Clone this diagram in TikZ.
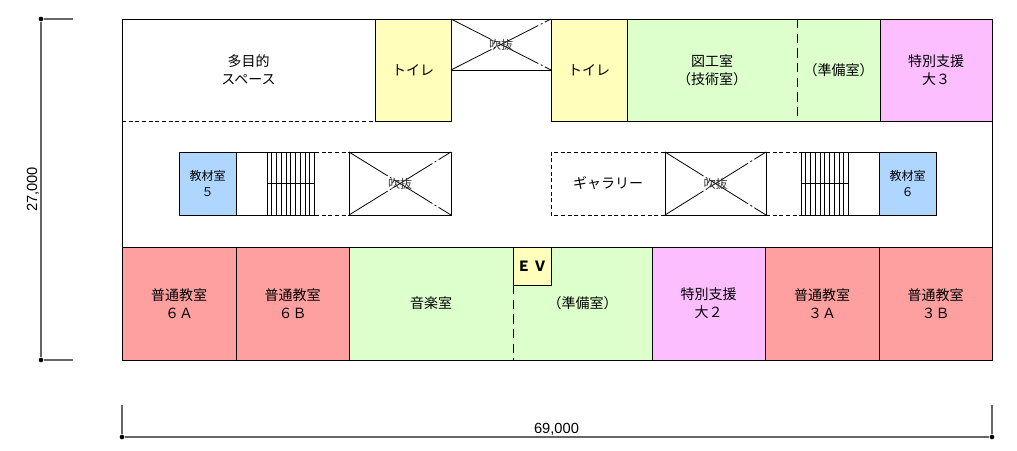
\documentclass[tikz,border=0pt]{standalone}
\usepackage{fontspec}
\setmainfont{Noto Sans CJK JP}
\newfontfamily\dimfont{Liberation Sans}
\usepackage{xcolor}
\usetikzlibrary{positioning}
\definecolor{roomred}{HTML}{FFA0A0}
\definecolor{roomgreen}{HTML}{DCFFCC}
\definecolor{roomyellow}{HTML}{FFFFBB}
\definecolor{roompink}{HTML}{FCBEFF}
\definecolor{roomblue}{HTML}{AFD6FF}
\newlength{\pxunit}
\setlength{\pxunit}{0.75pt}

\begin{document}
\begin{tikzpicture}[x=0.75pt, y=-0.75pt, node distance=0pt, line width=0.75pt,
  room/.style 2 args={rectangle, draw, inner sep=0pt, outer sep=0pt, align=center, font=\fontsize{10.5pt}{13.5pt}\selectfont, minimum width=#1*\pxunit, minimum height=#2*\pxunit},
  smallroom/.style 2 args={room={#1}{#2}, font=\fontsize{9pt}{12pt}\selectfont},
  crossline/.style={line width=0.6pt, dash pattern=on 34pt off 2pt on 1.5pt off 2pt},
  dimline/.style={gray!80!black, line width=0.8pt},
  dimdot/.style={circle, fill=black, inner sep=0pt, minimum size=3.5pt},
  dimtext/.style={inner sep=0pt, font=\fontsize{11pt}{12pt}\dimfont}]
\useasboundingbox (0,0) rectangle (1017,450);

% Top row
\node [room={253}{102}, draw=none, anchor=north west] (hall) at (122,19) {多目的\\スペース};
\node [room={76}{102}, fill=roomyellow, right=of hall] (wc1) {トイレ};
\node [room={100}{51}, anchor=north west] (void1) at (wc1.north east) {};
\node [room={76}{102}, fill=roomyellow, anchor=north west] (wc2) at (void1.north east) {トイレ};
\node [room={170}{102}, draw=none, fill=roomgreen, right=of wc2] (art) {図工室\\（技術室）};
\node [room={83}{102}, draw=none, fill=roomgreen, right=of art] (artprep) {（準備室）};
\node [room={112}{102}, fill=roompink, right=of artprep] (sp3) {特別支援\\大３};

% Middle row, left
\node [smallroom={57}{63}, fill=roomblue, anchor=north west] (mat5) at (179,152) {教材室\\５};
\node [room={79}{63}, draw=none, right=of mat5] (stair1) {};
\node [room={34}{63}, draw=none, right=of stair1] (land1) {};
\node [room={102}{63}, right=of land1] (void2) {};

% Middle row, right
\node [room={114}{63}, draw=none, anchor=north west] (gallery) at (551,152) {ギャラリー};
\node [room={101}{63}, right=of gallery] (void3) {};
\node [room={35}{63}, draw=none, right=of void3] (land2) {};
\node [room={78}{63}, draw=none, right=of land2] (stair2) {};
\node [smallroom={57}{63}, fill=roomblue, right=of stair2] (mat6) {教材室\\６};

% Bottom row
\node [room={114}{113}, fill=roomred, anchor=north west] (r6a) at (122,247) {普通教室\\６Ａ};
\node [room={113}{113}, fill=roomred, right=of r6a] (r6b) {普通教室\\６Ｂ};
\node [room={164}{113}, draw=none, fill=roomgreen, right=of r6b] (music) {音楽室};
\node [room={139}{113}, draw=none, fill=roomgreen, right=of music] (musicprep) {（準備室）};
\node [room={113}{113}, fill=roompink, right=of musicprep] (sp2) {特別支援\\大２};
\node [room={114}{113}, fill=roomred, right=of sp2] (r3a) {普通教室\\３Ａ};
\node [room={113}{113}, fill=roomred, right=of r3a] (r3b) {普通教室\\３Ｂ};
\node [room={38}{38}, fill=roomyellow, anchor=north west] (ev) at (music.north east) {};
\node at (ev.center) [font=\fontsize{10.5pt}{12pt}\selectfont\bfseries] (evtext) {Ｅ\,Ｖ};

% Walls
\draw (art.north west) rectangle (artprep.south east);
\draw (music.north west) rectangle (musicprep.south east);
\draw (hall.north west) -- (hall.north east);
\draw (hall.north west) -- (r6a.north west);
\draw (sp3.south east) -- (r3b.north east);
\draw[dash pattern=on 3pt off 2pt] (hall.south west) -- (hall.south east);
\draw[dash pattern=on 7pt off 4pt] (art.north east) -- (art.south east);
\draw[dash pattern=on 7pt off 4pt] (ev.south west) -- (music.south east);

% Stairs
\draw (mat5.north east) -- (stair1.north east) (mat5.south east) -- (stair1.south east);
\draw (mat6.north west) -- (stair2.north west) (mat6.south west) -- (stair2.south west);
\draw[dash pattern=on 3pt off 2pt] (land1.north west) -- (land1.north east) (land1.south west) -- (land1.south east);
\draw[dash pattern=on 3pt off 2pt] (land2.north west) -- (land2.north east) (land2.south west) -- (land2.south east);
\draw[dash pattern=on 3pt off 2pt] (gallery.south east) -| (gallery.north west) -- (gallery.north east);
\foreach \i in {0,...,10} {
  \draw[line width=0.6pt] ([xshift=(31+\i*4.75)*\pxunit]mat5.north east) -- ([xshift=(31+\i*4.75)*\pxunit]mat5.south east);
  \draw[line width=0.6pt] ([xshift=\i*4.75*\pxunit]land2.north east) -- ([xshift=\i*4.75*\pxunit]land2.south east);
}
\draw[line width=0.6pt] ([xshift=31*\pxunit]mat5.east) -- (stair1.east);
\draw[line width=0.6pt] (land2.east) -- ([xshift=47.5*\pxunit]land2.east);

% Voids
\foreach \v in {void1,void2,void3} {
  \draw[crossline] (\v.north west) -- (\v.south east);
  \draw[crossline] (\v.south west) -- (\v.north east);
  \node [font=\fontsize{9pt}{10pt}\selectfont, text=black!80] (\v text) at (\v.center) {吹抜};
}

% Dimensions
\node [dimdot] (dimtop) at (41,19) {};
\node [dimdot] (dimbottom) at (41,360) {};
\node [dimdot] (dimleft) at (122,437) {};
\node [dimdot] (dimright) at (992,437) {};
\coordinate (ticktop) at (73,19);
\coordinate (tickbottom) at (73,360);
\coordinate (tickleft) at (122,405);
\coordinate (tickright) at (992,405);
\draw[dimline] (dimtop) -- (dimbottom);
\draw[dimline] (dimleft) -- (dimright);
\draw[dimline] (dimtop) -- (ticktop);
\draw[dimline] (dimbottom) -- (tickbottom);
\draw[dimline] (dimleft) -- (tickleft);
\draw[dimline] (dimright) -- (tickright);
\node [dimtext, rotate=90] (width27) at (33,189.5) {27,000};
\node [dimtext] (width69) at (556.5,429) {69,000};
\end{tikzpicture}
\end{document}
